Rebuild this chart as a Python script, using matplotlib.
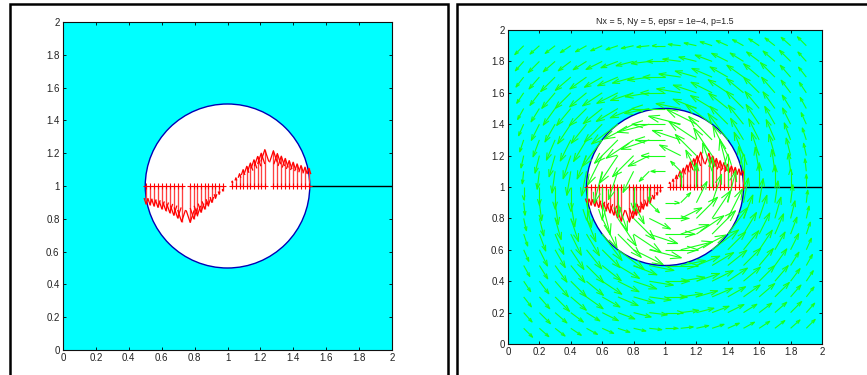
import numpy as np
import matplotlib
matplotlib.use("Agg")
import matplotlib.pyplot as plt
from matplotlib.patches import Circle, Rectangle
from matplotlib.collections import LineCollection

plt.rcParams['font.family'] = ['Liberation Sans', 'DejaVu Sans']

# ---- data -------------------------------------------------------------
# trace on the cut y = 1: sample points of the four elements and the
# vertical component at each sample
elem1_x = [0.505, 0.529, 0.553, 0.577, 0.601, 0.625, 0.649, 0.673, 0.697, 0.721]
elem2_x = [0.773, 0.795, 0.817, 0.839, 0.861, 0.883, 0.905, 0.927, 0.949, 0.971]
elem3_x = [1.029, 1.051, 1.073, 1.095, 1.117, 1.139, 1.161, 1.183, 1.205, 1.227]
elem4_x = [1.279, 1.303, 1.327, 1.351, 1.375, 1.399, 1.423, 1.447, 1.471, 1.495]

elem1_v = [-0.110, -0.115, -0.122, -0.130, -0.140, -0.150, -0.163, -0.178, -0.195, -0.218]
elem2_v = [-0.222, -0.200, -0.180, -0.160, -0.140, -0.120, -0.100, -0.075, -0.050, -0.030]
elem3_v = [0.030, 0.050, 0.075, 0.100, 0.120, 0.140, 0.160, 0.180, 0.200, 0.222]
elem4_v = [0.215, 0.198, 0.182, 0.168, 0.155, 0.145, 0.135, 0.125, 0.115, 0.108]

cut_y = 1.0
cut_tail = [1.5, 2.0]          # black segment of the cut outside the disc

disc_center = (1.0, 1.0)
disc_radius = 0.5

# velocity field sampled on a 0.1 grid; arrow length by ring inside the
# disc (radius 0, 0.1, ..., 0.5) and by relative distance from the disc
# edge to the outer boundary (0, 0.1, ..., 1) outside it
grid_step = 0.1
inner_speed = [0.0, 0.09, 0.15, 0.19, 0.21, 0.21]
outer_speed = [0.16, 0.16, 0.155, 0.15, 0.14, 0.13, 0.115, 0.10, 0.08, 0.05, 0.0]

tick_vals = [0, 0.2, 0.4, 0.6, 0.8, 1.0, 1.2, 1.4, 1.6, 1.8, 2.0]
tick_text = ['0', '0.2', '0.4', '0.6', '0.8', '1', '1.2', '1.4', '1.6', '1.8', '2']
title_right = 'Nx = 5, Ny = 5, epsr = 1e\u22124, p=1.5'

CYAN = '#00ffff'
DISC_EDGE = '#0000b4'
RED = (1.0, 0.0, 0.0)
RED_SHAFT = (1.0, 0.25, 0.25)
GREEN = (0.1, 1.0, 0.1)


def arrow_segments(x, y, u, v, alpha=0.33, beta=0.33):
    """Shafts and open two-barb heads for each arrow."""
    x, y, u, v = map(np.asarray, (x, y, u, v))
    tx, ty = x + u, y + v
    b1x = tx - alpha * (u + beta * v)
    b1y = ty - alpha * (v - beta * u)
    b2x = tx - alpha * (u - beta * v)
    b2y = ty - alpha * (v + beta * u)
    shafts, heads = [], []
    for i in range(len(x)):
        shafts.append([(x[i], y[i]), (tx[i], ty[i])])
        heads.append([(b1x[i], b1y[i]), (tx[i], ty[i]), (b2x[i], b2y[i])])
    return shafts, heads


def draw_arrows(ax, x, y, u, v, shaft_color, head_color, lw_shaft, lw_head, z):
    shafts, heads = arrow_segments(x, y, u, v)
    ax.add_collection(LineCollection(shafts, colors=[shaft_color],
                                     linewidths=lw_shaft, zorder=z))
    ax.add_collection(LineCollection(heads, colors=[head_color],
                                     linewidths=lw_head, zorder=z))


def base_panel(ax):
    ax.set_facecolor(CYAN)
    ax.add_patch(Circle(disc_center, disc_radius, facecolor='white',
                        edgecolor=DISC_EDGE, linewidth=1.0, zorder=1))
    ax.plot(cut_tail, [cut_y, cut_y], color='black', linewidth=1.0, zorder=2)
    ax.set_xlim(0, 2)
    ax.set_ylim(0, 2)
    ax.set_xticks(tick_vals)
    ax.set_yticks(tick_vals)
    ax.set_xticklabels(tick_text)
    ax.set_yticklabels(tick_text)
    ax.tick_params(direction='in', length=2.5, width=0.6, labelsize=7,
                   labelcolor='#222222', pad=2.5, top=True, right=True)
    for s in ax.spines.values():
        s.set_linewidth(0.8)
        s.set_color('#111111')


def draw_trace(ax):
    xs = elem1_x + elem2_x + elem3_x + elem4_x
    vs = elem1_v + elem2_v + elem3_v + elem4_v
    ys = [cut_y] * len(xs)
    draw_arrows(ax, xs, ys, [0.0] * len(xs), vs, RED_SHAFT, RED, 0.95, 0.9, 3)
    ax.plot(xs, ys, linestyle='none', marker='+', markersize=3.8,
            markeredgewidth=0.8, color=RED, zorder=3)


fig = plt.figure(figsize=(8.67, 3.75), dpi=100)

# outer frames around the two panels
fig.add_artist(Rectangle((9.5 / 867, -0.2), (447.8 - 9.5) / 867, 1.2 - 4 / 375,
                         transform=fig.transFigure, fill=False,
                         edgecolor='black', linewidth=1.8))
fig.add_artist(Rectangle((457.3 / 867, -0.2), 0.6, 1.2 - 4 / 375,
                         transform=fig.transFigure, fill=False,
                         edgecolor='black', linewidth=1.8))

ax1 = fig.add_axes([63 / 867, 1 - 350 / 375, 329 / 867, 328 / 375])
base_panel(ax1)
draw_trace(ax1)

ax2 = fig.add_axes([508 / 867, 1 - 344 / 375, 314 / 867, 314 / 375])
base_panel(ax2)
draw_trace(ax2)
ax2.set_title(title_right, fontsize=6.4, color='#222222', pad=4)

# rotating field on the grid
g = np.round(np.arange(0, 2 + 1e-9, grid_step), 2)
gx, gy = np.meshgrid(g, g)
gx, gy = gx.ravel(), gy.ravel()
dx, dy = gx - disc_center[0], gy - disc_center[1]
r = np.hypot(dx, dy)
speed = np.zeros_like(r)
for i in range(len(r)):
    if r[i] == 0:
        continue
    if r[i] <= disc_radius + 1e-9:
        speed[i] = inner_speed[int(round(r[i] / grid_step))]
    else:
        cx, cy = dx[i] / r[i], dy[i] / r[i]
        reach = 1.0 / max(abs(cx), abs(cy))
        t = (r[i] - disc_radius) / (reach - disc_radius)
        speed[i] = outer_speed[int(round(min(t, 1.0) * 10))]
safe_r = np.where(r == 0, 1, r)
u = -dy / safe_r * speed
v = dx / safe_r * speed
keep = speed > 0
draw_arrows(ax2, gx[keep], gy[keep], u[keep], v[keep], GREEN, GREEN, 0.8, 0.8, 4)

fig.savefig('out.png', dpi=100)
